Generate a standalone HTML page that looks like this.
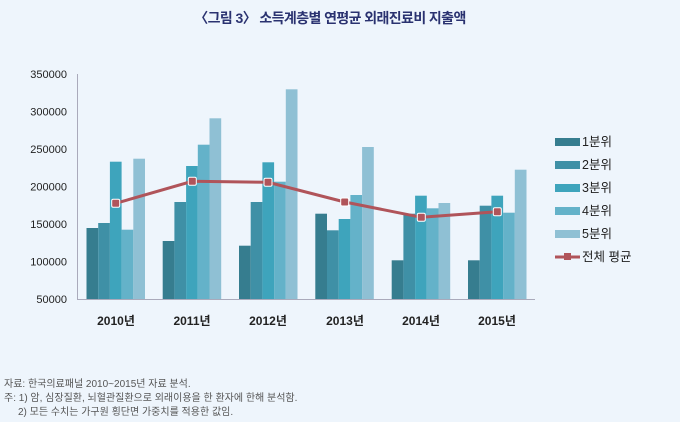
<!DOCTYPE html>
<html><head><meta charset="utf-8"><style>
html,body{margin:0;padding:0;background:#eef5fc;}
svg{display:block;font-family:"Liberation Sans","Noto Sans CJK KR",sans-serif;}
</style></head><body>
<svg width="680" height="422" viewBox="0 0 680 422" xmlns="http://www.w3.org/2000/svg">
<rect width="680" height="422" fill="#eef5fc"/>
<text x="330" y="23" text-anchor="middle" font-size="14" font-weight="bold" fill="#2a3270" letter-spacing="-0.6">〈그림 3〉 소득계층별 연평균 외래진료비 지출액</text>
<g font-size="11" fill="#222" text-anchor="end">
<text x="67" y="78">350000</text><text x="67" y="115.5">300000</text><text x="67" y="153">250000</text>
<text x="67" y="190.5">200000</text><text x="67" y="228">150000</text><text x="67" y="265.5">100000</text><text x="67" y="303">50000</text>
</g>
<line x1="77.5" y1="74" x2="77.5" y2="299" stroke="#aab" stroke-width="1"/>
<line x1="77" y1="299.5" x2="535" y2="299.5" stroke="#aab" stroke-width="1"/>
<g>
<!-- 2010 -->
<rect x="86.5" y="228" width="11.7" height="71" fill="#367d8f"/><rect x="98.2" y="223" width="11.7" height="76" fill="#3f90a6"/><rect x="109.9" y="161.7" width="11.7" height="137.3" fill="#3ea4bc"/><rect x="121.6" y="229.7" width="11.7" height="69.3" fill="#64b2c9"/><rect x="133.3" y="158.7" width="11.7" height="140.3" fill="#8fc0d4"/>
<!-- 2011 -->
<rect x="162.7" y="241" width="11.7" height="58" fill="#367d8f"/><rect x="174.4" y="202" width="11.7" height="97" fill="#3f90a6"/><rect x="186.1" y="166" width="11.7" height="133" fill="#3ea4bc"/><rect x="197.8" y="144.7" width="11.7" height="154.3" fill="#64b2c9"/><rect x="209.5" y="118.3" width="11.7" height="180.7" fill="#8fc0d4"/>
<!-- 2012 -->
<rect x="239" y="245.7" width="11.7" height="53.3" fill="#367d8f"/><rect x="250.7" y="202" width="11.7" height="97" fill="#3f90a6"/><rect x="262.4" y="162.3" width="11.7" height="136.7" fill="#3ea4bc"/><rect x="274.1" y="181.7" width="11.7" height="117.3" fill="#64b2c9"/><rect x="285.8" y="89.3" width="11.7" height="209.7" fill="#8fc0d4"/>
<!-- 2013 -->
<rect x="315.3" y="213.7" width="11.7" height="85.3" fill="#367d8f"/><rect x="327" y="230.3" width="11.7" height="68.7" fill="#3f90a6"/><rect x="338.7" y="219" width="11.7" height="80" fill="#3ea4bc"/><rect x="350.4" y="195" width="11.7" height="104" fill="#64b2c9"/><rect x="362.1" y="147" width="11.7" height="152" fill="#8fc0d4"/>
<!-- 2014 -->
<rect x="391.7" y="260.3" width="11.7" height="38.7" fill="#367d8f"/><rect x="403.4" y="213.7" width="11.7" height="85.3" fill="#3f90a6"/><rect x="415.1" y="195.7" width="11.7" height="103.3" fill="#3ea4bc"/><rect x="426.8" y="208.3" width="11.7" height="90.7" fill="#64b2c9"/><rect x="438.5" y="203" width="11.7" height="96" fill="#8fc0d4"/>
<!-- 2015 -->
<rect x="468" y="260.3" width="11.7" height="38.7" fill="#367d8f"/><rect x="479.7" y="205.7" width="11.7" height="93.3" fill="#3f90a6"/><rect x="491.4" y="195.7" width="11.7" height="103.3" fill="#3ea4bc"/><rect x="503.1" y="212.7" width="11.7" height="86.3" fill="#64b2c9"/><rect x="514.8" y="169.7" width="11.7" height="129.3" fill="#8fc0d4"/>
</g>
<polyline points="115.7,203.3 192.3,181.3 268,182.3 344.7,202 421.3,217.3 497.3,211.7" fill="none" stroke="#b0545a" stroke-width="3"/>
<g fill="#b0545a" stroke="#fff" stroke-width="1">
<rect x="111.7" y="199.3" width="8" height="8" rx="1.5"/><rect x="188.3" y="177.3" width="8" height="8" rx="1.5"/><rect x="264" y="178.3" width="8" height="8" rx="1.5"/><rect x="340.7" y="198" width="8" height="8" rx="1.5"/><rect x="417.3" y="213.3" width="8" height="8" rx="1.5"/><rect x="493.3" y="207.7" width="8" height="8" rx="1.5"/>
</g>
<g font-size="12" font-weight="bold" fill="#222" text-anchor="middle">
<text x="116" y="325">2010년</text><text x="192" y="325">2011년</text><text x="268" y="325">2012년</text><text x="345" y="325">2013년</text><text x="421" y="325">2014년</text><text x="497" y="325">2015년</text>
</g>
<g font-size="12.5" fill="#222">
<rect x="555" y="138" width="25" height="8" fill="#367d8f"/><text x="582" y="146">1분위</text>
<rect x="555" y="161" width="25" height="8" fill="#3f90a6"/><text x="582" y="169">2분위</text>
<rect x="555" y="184" width="25" height="8" fill="#3ea4bc"/><text x="582" y="192">3분위</text>
<rect x="555" y="207" width="25" height="8" fill="#64b2c9"/><text x="582" y="215">4분위</text>
<rect x="555" y="230" width="25" height="8" fill="#8fc0d4"/><text x="582" y="238">5분위</text>
<line x1="555" y1="257" x2="580" y2="257" stroke="#b0545a" stroke-width="3"/><rect x="564" y="253" width="7" height="7" fill="#b0545a"/><text x="582" y="261">전체 평균</text>
</g>
<g font-size="10" fill="#555">
<text x="4" y="387">자료: 한국의료패널 2010~2015년 자료 분석.</text>
<text x="4" y="401">주: 1) 암, 심장질환, 뇌혈관질환으로 외래이용을 한 환자에 한해 분석함.</text>
<text x="18" y="415">2) 모든 수치는 가구원 횡단면 가중치를 적용한 값임.</text>
</g>
</svg>
</body></html>
